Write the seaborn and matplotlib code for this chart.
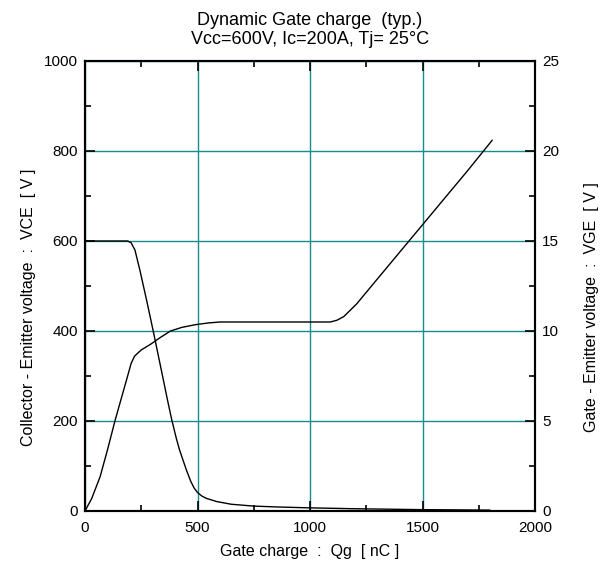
import matplotlib
matplotlib.use("Agg")
import matplotlib.pyplot as plt
import seaborn as sns
import pandas as pd
from matplotlib.ticker import MultipleLocator

# Data
qg_vce = [0, 100, 190, 205, 222, 244, 274, 304, 326, 348, 366, 385, 405, 420,
          450, 470, 485, 500, 520, 540, 585, 650, 747, 850, 1000, 1200, 1500, 1800]
vce = [600, 600, 600, 596, 580, 535, 468, 398, 345, 292, 248, 204, 163, 136,
       92, 66, 51, 41, 33, 28, 21, 15, 11, 9, 7, 5, 3, 2]

qg_vge = [0, 30, 67, 100, 133, 160, 185, 205, 220, 250, 290, 330, 380, 430, 490,
          550, 600, 800, 1000, 1090, 1120, 1150, 1207, 1300, 1400, 1500, 1600,
          1700, 1810]
vge = [0, 0.7, 1.9, 3.4, 5.0, 6.2, 7.3, 8.2, 8.6, 8.95, 9.25, 9.6, 10.0, 10.2,
       10.35, 10.45, 10.5, 10.5, 10.5, 10.5, 10.6, 10.8, 11.5, 12.9, 14.4, 15.9,
       17.4, 18.9, 20.6]

title = "Dynamic Gate charge  (typ.)\nVcc=600V, Ic=200A, Tj= 25°C"
xlabel = "Gate charge  :  Qg  [ nC ]"
ylabel_left = "Collector - Emitter voltage  :  VCE  [ V ]"
ylabel_right = "Gate - Emitter voltage  :  VGE  [ V ]"

sns.set_style("ticks")
plt.rcParams['font.family'] = ['Liberation Sans', 'DejaVu Sans']
plt.rcParams['font.size'] = 11
plt.rcParams['text.color'] = 'black'
plt.rcParams['axes.labelcolor'] = 'black'
plt.rcParams['xtick.color'] = 'black'
plt.rcParams['ytick.color'] = 'black'

grid_color = "#168c8c"

fig = plt.figure(figsize=(6.07, 5.65), dpi=100)
ax = fig.add_axes([85/607, 1-511/565, 450/607, 450/565])
ax2 = ax.twinx()

df_vce = pd.DataFrame({"Qg": qg_vce, "VCE": vce})
df_vge = pd.DataFrame({"Qg": qg_vge, "VGE": vge})

sns.lineplot(data=df_vce, x="Qg", y="VCE", ax=ax, color="black", linewidth=1.0)
sns.lineplot(data=df_vge, x="Qg", y="VGE", ax=ax2, color="black", linewidth=1.0)

ax.set_xlim(0, 2000)
ax.set_ylim(0, 1000)
ax2.set_ylim(0, 25)

ax.xaxis.set_major_locator(MultipleLocator(500))
ax.xaxis.set_minor_locator(MultipleLocator(250))
ax.yaxis.set_major_locator(MultipleLocator(200))
ax.yaxis.set_minor_locator(MultipleLocator(100))
ax2.yaxis.set_major_locator(MultipleLocator(5))
ax2.yaxis.set_minor_locator(MultipleLocator(2.5))

ax.grid(True, which="major", color=grid_color, linewidth=1.0)
ax.set_axisbelow(True)

ax.tick_params(axis="y", which="major", direction="in", length=7, width=1.2,
               right=False, labelsize=11, pad=5, color="black", labelcolor="black")
ax.tick_params(axis="y", which="minor", direction="in", length=4, width=1.2,
               right=False, color="black")
ax.tick_params(axis="x", which="major", direction="in", length=7, width=1.2,
               top=True, labelsize=11, pad=7, color="black", labelcolor="black")
ax.tick_params(axis="x", which="minor", direction="in", length=4, width=1.2,
               top=True, color="black")
ax2.tick_params(axis="y", which="major", direction="in", length=7, width=1.2,
                labelsize=11, pad=5, color="black", labelcolor="black")
ax2.tick_params(axis="y", which="minor", direction="in", length=4, width=1.2,
                color="black")

for a in (ax, ax2):
    for s in a.spines.values():
        s.set_linewidth(1.5)
        s.set_color("black")
        s.set_visible(True)

ax.set_xlabel(xlabel, fontsize=11.5, labelpad=7, color="black")
ax.set_ylabel(ylabel_left, fontsize=11.5, labelpad=6, color="black")
ax2.set_ylabel(ylabel_right, fontsize=11.5, labelpad=18, color="black")
ax.yaxis.label.set_y(0.453)
ax2.yaxis.label.set_y(0.453)
ax.set_title(title, fontsize=13, pad=12, linespacing=1.15, color="black")

fig.savefig("out.png", dpi=100)
